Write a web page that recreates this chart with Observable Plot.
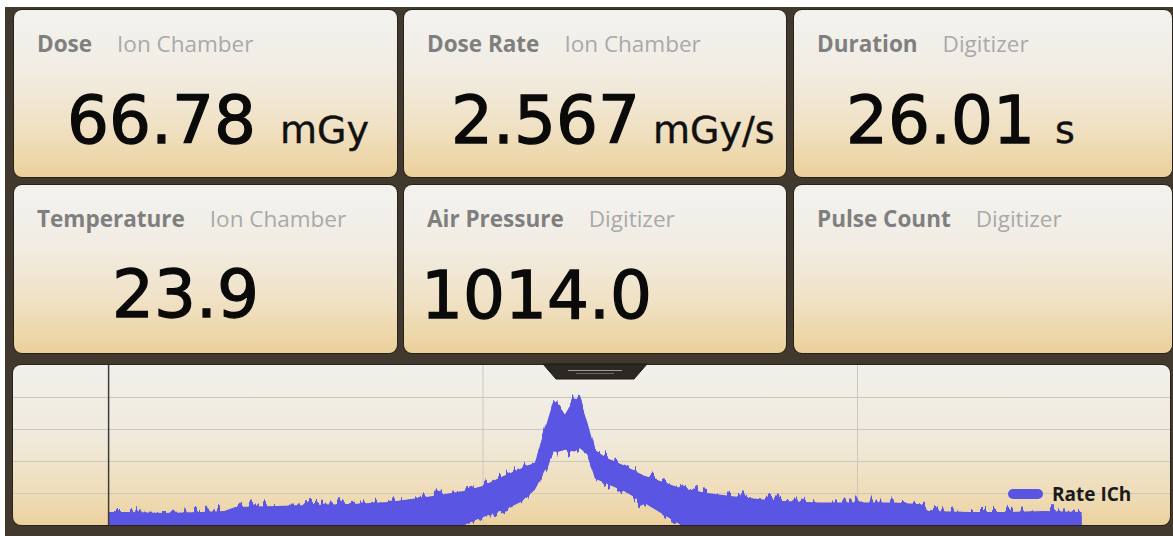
<!DOCTYPE html>
<html>
<head>
<meta charset="utf-8">
<script src="https://cdn.jsdelivr.net/npm/d3@7"></script>
<script src="https://cdn.jsdelivr.net/npm/@observablehq/plot@0.6"></script>
<style>
  html, body { margin: 0; padding: 0; background: #ffffff; width: 1173px; height: 536px; overflow: hidden; }
  #chrome, #chart, #over { position: absolute; }
  #chrome { left: 0; top: 0; }
  #chart { left: 13px; top: 365px; }
  #over { left: 0; top: 0; pointer-events: none; }
  .lbl { font-family: "Open Sans", sans-serif; font-size: 22.5px; }
  .lb { font-weight: 700; fill: #7f7f7f; }
  .ls { font-weight: 400; fill: #a9a9a9; }
  .val { font-family: "DejaVu Sans", sans-serif; font-size: 66px; fill: #0a0a0a; stroke: #0a0a0a; stroke-width: 1.3px; }
  .unit { font-family: "DejaVu Sans", sans-serif; font-size: 38px; fill: #111; stroke: #111; stroke-width: 0.4px; }
</style>
</head>
<body>
<script>
// ---- Tiles (readings) ----
const tileNames   = ["Dose", "Dose Rate", "Duration", "Temperature", "Air Pressure", "Pulse Count"];
const tileSources = ["Ion Chamber", "Ion Chamber", "Digitizer", "Ion Chamber", "Digitizer", "Digitizer"];
const tileValues  = ["66.78", "2.567", "26.01", "23.9", "1014.0", ""];
const tileUnits   = ["mGy", "mGy/s", "s", "", "", ""];

// ---- Chart series: Rate ICh (time in s, band low/high in mGy/s) ----
const times    = [0, 0.5, 1.5, 2.5, 3.1, 3.4, 4.5, 5.5, 6.5, 7.5, 8.5, 9.5, 10, 10.5, 11, 11.4, 11.7, 11.9, 12.05, 12.2, 12.45, 12.6, 12.8, 13.0, 13.3, 13.8, 14.3, 14.8, 15.3, 16, 17, 18, 19, 20, 21, 21.7, 21.9, 23, 24, 25, 26];
const rateHigh = [0.81, 0.81, 0.75, 0.81, 0.88, 1.12, 1.19, 1.25, 1.31, 1.44, 1.75, 2.12, 2.44, 3.0, 3.5, 3.9, 6.25, 7.8, 7.4, 6.9, 7.9, 7.8, 6.4, 4.7, 4.2, 3.7, 3.1, 2.7, 2.3, 2.0, 1.7, 1.5, 1.4, 1.4, 1.4, 1.3, 0.88, 0.81, 0.81, 0.88, 0.81];
const rateLow  = [0, 0, 0, 0, 0, 0, 0, 0, 0, 0, 0, 0, 0.5, 0.9, 1.4, 2.2, 3.6, 4.6, 4.6, 4.7, 4.6, 4.8, 4.4, 2.9, 2.6, 2.1, 1.4, 0.7, 0, 0, 0, 0, 0, 0, 0, 0, 0, 0, 0, 0, 0];
const seriesName = "Rate ICh";
const timeGrid = [10, 20];
const rateGrid = [2, 4, 6, 8];
const timeDomain = [-2.54, 28.36];
const rateDomain = [0, 10];

// ---- Chrome (frame, tiles, texts) ----
const NS = "http://www.w3.org/2000/svg";
const tileBoxes = [
  [14, 10, 383, 167], [404, 10, 382, 167], [794, 10, 378, 167],
  [14, 185, 383, 168], [404, 185, 382, 168], [794, 185, 378, 168]
];
const valuePos = [[67, 143], [451, 143], [846, 143], [112, 317], [421, 318], [0, 0]];
const unitGap = [24, 13, 20, 0, 0, 0];
let s = `<svg id="chrome" xmlns="${NS}" width="1173" height="536" viewBox="0 0 1173 536">
<defs>
 <linearGradient id="tg" x1="0" y1="0" x2="0" y2="1">
  <stop offset="0" stop-color="#f3f2ef"/><stop offset="0.35" stop-color="#f1ede4"/>
  <stop offset="0.7" stop-color="#f0e1c4"/><stop offset="1" stop-color="#ecd09a"/>
 </linearGradient>
 <linearGradient id="cg" x1="0" y1="0" x2="0" y2="1">
  <stop offset="0" stop-color="#f1f0eb"/><stop offset="0.45" stop-color="#f0eadd"/>
  <stop offset="0.8" stop-color="#efdcb8"/><stop offset="1" stop-color="#ecd19e"/>
 </linearGradient>
</defs>
<rect x="5" y="7" width="1168" height="529" fill="#41392e"/>`;
tileBoxes.forEach(([x, y, w, h], i) => {
  s += `<rect x="${x - 1}" y="${y - 1}" width="${w + 2}" height="${h + 2}" rx="9" fill="#26221c"/>`;
  s += `<rect x="${x}" y="${y}" width="${w}" height="${h}" rx="8" fill="url(#tg)"/>`;
  s += `<text class="lbl" x="${x + 23}" y="${y + 42}"><tspan class="lb">${tileNames[i]}</tspan><tspan class="ls" dx="25">${tileSources[i]}</tspan></text>`;
  if (tileValues[i]) {
    const [vx, vy] = valuePos[i];
    s += `<text x="${vx}" y="${vy}"><tspan class="val">${tileValues[i]}</tspan>${tileUnits[i] ? `<tspan class="unit" dx="${unitGap[i]}">${tileUnits[i]}</tspan>` : ""}</text>`;
  }
});
s += `<rect x="12" y="364" width="1159" height="162" rx="9" fill="#26221c"/>`;
s += `<rect x="13" y="365" width="1157" height="160" rx="8" fill="url(#cg)"/>`;
s += `</svg>`;
document.body.insertAdjacentHTML("beforeend", s);

// ---- Chart with Observable Plot ----
const data = times.map((t, i) => ({t, lo: rateLow[i], hi: rateHigh[i]}));
const bandColor = "#5a54e2";
const chart = Plot.plot({
  width: 1157, height: 160,
  marginTop: 0, marginRight: 0, marginBottom: 0, marginLeft: 0,
  x: {domain: timeDomain, axis: null},
  y: {domain: rateDomain, axis: null},
  style: {background: "transparent"},
  marks: [
    Plot.ruleY(rateGrid, {stroke: "#cdc7ba", strokeWidth: 1}),
    Plot.ruleX(timeGrid, {stroke: "#cdc7ba", strokeWidth: 1}),
    Plot.areaY(data, {x: "t", y1: "lo", y2: "hi", fill: bandColor, curve: "linear"}),
    Plot.areaY(data, {x: "t", y1: "lo", y2: "hi", fill: bandColor, curve: "linear"}),
    Plot.ruleX([0], {stroke: "#3c3c3c", strokeWidth: 1.5})
  ]
});
chart.id = "chart";
// rough, noisy edge rendering (visual style only) applied to the second copy of the band
chart.insertAdjacentHTML("afterbegin", `<defs><filter id="rough" x="-2%" y="-30%" width="104%" height="160%">
  <feTurbulence type="fractalNoise" baseFrequency="0.24 0.012" numOctaves="2" seed="7" result="n"/>
  <feColorMatrix in="n" type="matrix" values="0 0 0 0 0.5  0 1.7 0 0 -0.35  0 0 1 0 0  0 0 0 0 1" result="m"/>
  <feDisplacementMap in="SourceGraphic" in2="m" scale="15" xChannelSelector="R" yChannelSelector="G"/>
</filter></defs>`);
const areas = chart.querySelectorAll('g[aria-label="area"]');
if (areas.length > 1) areas[1].setAttribute("filter", "url(#rough)");
document.body.appendChild(chart);

// ---- Overlay: tab + legend ----
const o = `<svg id="over" xmlns="${NS}" width="1173" height="536">
 <path d="M543,364 L647,364 L634,379 L556,379 Z" fill="#2c2823" stroke="#1c1915" stroke-width="1"/>
 <line x1="568" y1="370.5" x2="622" y2="370.5" stroke="#a09d95" stroke-width="1.2"/>
 <line x1="576" y1="373.5" x2="614" y2="373.5" stroke="#6d6a63" stroke-width="1"/>
 <rect x="1008" y="489" width="35" height="10" rx="5" fill="${bandColor}"/>
 <text x="1052" y="501" font-family="Open Sans, sans-serif" font-size="19" font-weight="700" fill="#1a1a1a">${seriesName}</text>
</svg>`;
document.body.insertAdjacentHTML("beforeend", o);
</script>
</body>
</html>
